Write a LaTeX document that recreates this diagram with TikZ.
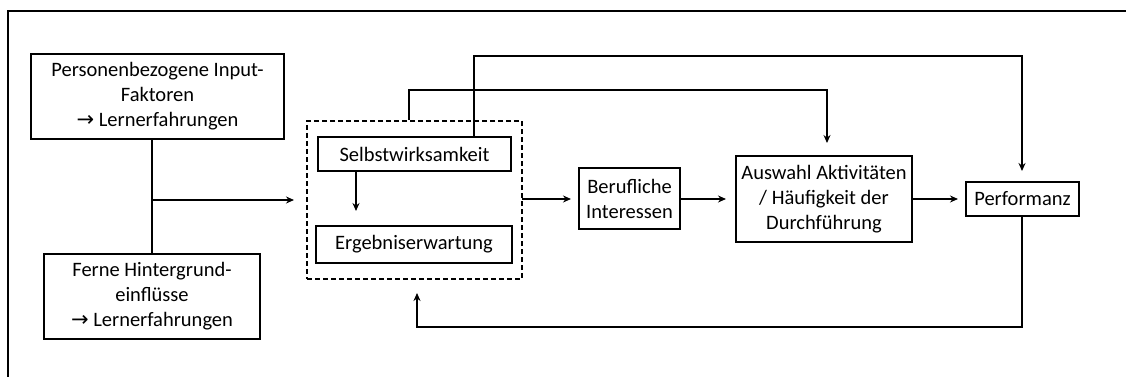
\documentclass[tikz,border=0pt]{standalone}
\usepackage{fontspec}
\setmainfont{Carlito}
\newfontfamily\symfont{DejaVu Sans}
\usetikzlibrary{arrows.meta,calc}
\newcommand{\arr}{{\symfont\fontsize{21}{25}\selectfont →}}
\tikzset{
  box/.style={draw, line width=1.5pt, rectangle, inner sep=0pt, align=center,
    font=\fontsize{20.5}{25}\selectfont},
  grp/.style={draw, line width=1.5pt, dashed, dash pattern=on 5pt off 3pt, rectangle, inner sep=0pt},
  conn/.style={line width=1.5pt},
  arrow/.style={line width=1.5pt, -{Stealth[length=8pt,width=7pt]}},
}
\begin{document}
\begin{tikzpicture}[x=1pt,y=-1pt]
\useasboundingbox (0,0) rectangle (1126,377);
% outer frame (top and left edges)
\draw[conn] (8,377) -- (8,11) -- (1126,11);

% nodes
\node[box, minimum width=253pt, minimum height=85pt] (pers) at (157.5,96.5)
  {Personenbezogene Input-\\Faktoren\\\arr{} Lernerfahrungen};
\node[box, minimum width=216pt, minimum height=85pt] (fern) at (152,296.5)
  {Ferne Hintergrund-\\einflüsse\\\arr{} Lernerfahrungen};
\node[grp, minimum width=215pt, minimum height=158pt] (grp) at (414.5,200) {};
\node[box, minimum width=193pt, minimum height=34pt] (selbst) at (414.5,154) {Selbstwirksamkeit};
\node[box, minimum width=196pt, minimum height=37pt] (ergeb) at (414,244.5) {Ergebniserwartung};
\node[box, minimum width=101pt, minimum height=61pt] (beruf) at (629.5,198.5) {Berufliche\\Interessen};
\node[box, minimum width=176pt, minimum height=86pt] (ausw) at (824,199) {Auswahl Aktivitäten\\/ Häufigkeit der\\Durchführung};
\node[box, minimum width=113pt, minimum height=34pt] (perf) at (1022.5,199) {Performanz};

% free ends of connectors
\coordinate (junc) at (152,200);
\coordinate (inend) at (294,200);
\coordinate (seend) at (356,211);
\coordinate (grpout) at (522,199);
\coordinate (grpend) at (571,199);
\coordinate (beend) at (726,199);
\coordinate (auend) at (958,199);
\coordinate (topA) at (409,90);
\coordinate (topB) at (474,56);
\coordinate (auin) at (827,143);
\coordinate (pfin) at (1022,171);
\coordinate (fbl) at (1022,327);
\coordinate (fbend) at (417,293);

% inputs
\draw[conn] (pers.south -| junc) -- (fern.north -| junc);
\draw[arrow] (junc) -- (inend);
\draw[arrow] (selbst.south -| seend) -- (seend);
% main chain
\draw[arrow] (grpout) -- (grpend);
\draw[arrow] (beruf.east |- beend) -- (beend);
\draw[arrow] (ausw.east |- auend) -- (auend);
% bypass lines over the top
\draw[arrow] (grp.north -| topA) -- (topA) -| (auin);
\draw[arrow] (selbst.north -| topB) -- (topB) -| (pfin);
% feedback from performance
\draw[arrow] (perf.south -| fbl) -- (fbl) -| (fbend);
\end{tikzpicture}
\end{document}
